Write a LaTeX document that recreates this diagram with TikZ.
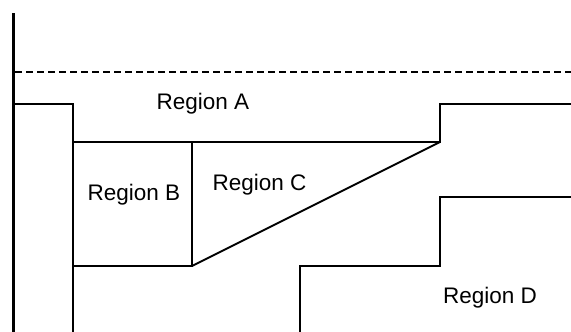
\documentclass[tikz,border=0pt]{standalone}
\usepackage{fontspec}
\setmainfont{Liberation Sans}
\begin{document}
\begin{tikzpicture}[x=1pt,y=-1pt,
  wall/.style={line width=1.8pt},
  axis/.style={line width=3pt},
  lbl/.style={font=\fontsize{22.5}{27}\selectfont, inner sep=0pt, anchor=base}]
\useasboundingbox (0,0) rectangle (571,332);
% thick vertical axis
\draw[axis] (13,13) -- (13,332);
% dashed line
\draw[wall, dash pattern=on 7pt off 4pt] (15,72) -- (571,72);
% left step and Region A outline
\draw[wall] (13,104) -- (73,104) -- (73,332);
\draw[wall] (73,142) -- (440,142) -- (440,104) -- (571,104);
% Region B / C
\draw[wall] (192,142) -- (192,266) -- (73,266);
\draw[wall] (192,266) -- (440,142);
% Region D outline
\draw[wall] (300,332) -- (300,266) -- (440,266) -- (440,197) -- (571,197);
% labels
\node[lbl] (A) at (203,109) {Region A};
\node[lbl] (B) at (134,200.5) {Region B};
\node[lbl] (C) at (259.5,190) {Region C};
\node[lbl] (D) at (490,303.5) {Region D};
\end{tikzpicture}
\end{document}
